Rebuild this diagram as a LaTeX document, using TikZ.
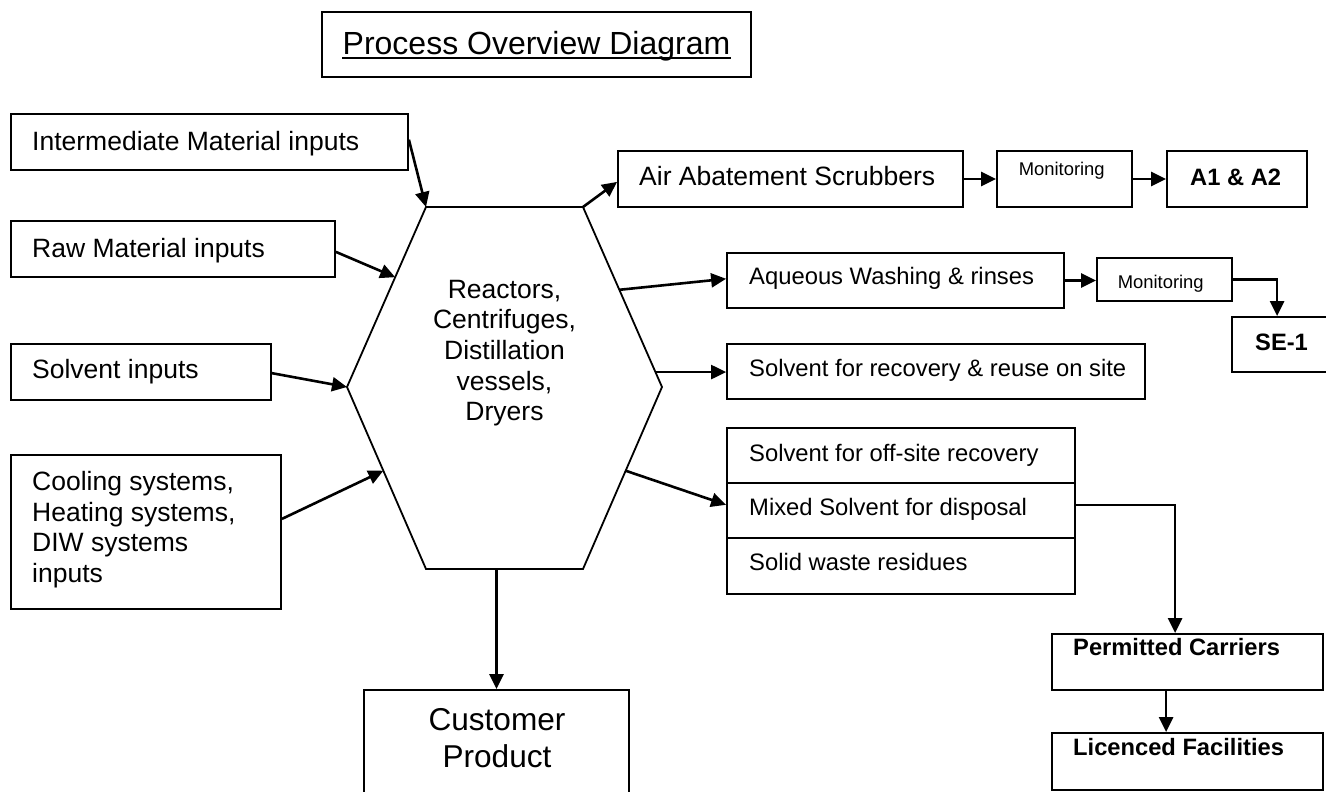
\documentclass[tikz,border=0pt]{standalone}
\usepackage{fontspec}
\setmainfont{Liberation Sans}
\usetikzlibrary{arrows.meta,fit,calc}
\begin{document}
\begin{tikzpicture}[x=1pt,y=-1pt,
  box/.style={draw, line width=1.8pt, inner sep=0pt},
  conn/.style={line width=2.6pt, -{Triangle[length=15pt,width=14pt]}},
  txt/.style={inner sep=0pt, anchor=base west},
  ctxt/.style={inner sep=0pt, anchor=base},
  big/.style={font=\fontsize{26.5}{30}\selectfont},
  med/.style={font=\fontsize{23.8}{28}\selectfont},
  sml/.style={font=\fontsize{18.4}{22}\selectfont},
  bld/.style={font=\fontsize{23.7}{28}\selectfont\bfseries},
  cst/.style={font=\fontsize{31.6}{36}\selectfont},
]
\useasboundingbox (0,0) rectangle (1326,792);

% ---- title
\node[box, fit={(322,12) (751,77)}] (title) {};
\node[ctxt, font=\fontsize{32}{36}\selectfont] (ttl) at (536.5,55) {Process Overview Diagram};
\draw[line width=2pt] ([yshift=-2.8pt]ttl.base west) -- ([yshift=-2.8pt]ttl.base east);

% ---- input boxes
\node[box, fit={(11,114) (408,170)}] (interm) {};
\node[txt, big] (tinterm) at (32,150.6) {Intermediate Material inputs};
\node[box, fit={(11,221) (335,277)}] (raw) {};
\node[txt, big] (traw) at (32,257.3) {Raw Material inputs};
\node[box, fit={(11,344) (271,400)}] (solvin) {};
\node[txt, big] (tsolvin) at (32,378) {Solvent inputs};
\node[box, fit={(11,455) (281,609)}] (cool) {};
\node[txt, big] (cool1) at (32,490.8) {Cooling systems,};
\node[txt, big] (cool2) at (32,521.2) {Heating systems,};
\node[txt, big] (cool3) at (32,551.6) {DIW systems};
\node[txt, big] (cool4) at (32,582) {inputs};

% ---- hexagon
\coordinate (hTL) at (426,207);
\coordinate (hTR) at (583,207);
\coordinate (hR)  at (662,387);
\coordinate (hBR) at (583,569);
\coordinate (hBL) at (426,569);
\coordinate (hL)  at (347,387);
\draw[line width=1.8pt, line join=miter] (hTL) -- (hTR) -- (hR) -- (hBR) -- (hBL) -- (hL) -- cycle;
\node[ctxt, big] (hx1) at (504.5,298) {Reactors,};
\node[ctxt, big] (hx2) at (504.5,328.7) {Centrifuges,};
\node[ctxt, big] (hx3) at (504.5,359.4) {Distillation};
\node[ctxt, big] (hx4) at (504.5,390.1) {vessels,};
\node[ctxt, big] (hx5) at (504.5,420.8) {Dryers};

% ---- customer product
\node[box, fit={(364,690) (629,796)}] (cust) {};
\node[ctxt, cst] (cust1) at (497,730.7) {Customer};
\node[ctxt, cst] (cust2) at (497,767.2) {Product};

% ---- output boxes
\node[box, fit={(618,151) (963,207)}] (air) {};
\node[txt, big] (tair) at (639,185.7) {Air Abatement Scrubbers};
\node[box, fit={(997,151) (1132,207)}] (mon1) {};
\node[txt, sml] (tmon1) at (1018.6,175) {Monitoring};
\node[box, fit={(1167,151) (1307,207)}] (a1) {};
\node[txt, bld] (ta1) at (1190,185) {A1 \& A2};

\node[box, fit={(727,253) (1064,308)}] (aq) {};
\node[txt, med] (taq) at (749,284.3) {Aqueous Washing \& rinses};
\node[box, fit={(1097,258) (1232,301)}] (mon2) {};
\node[txt, sml] (tmon2) at (1117.6,288) {Monitoring};
\node[box, fit={(1232,317) (1345,372)}] (se1) {};
\node[txt, bld] (tse1) at (1255,350) {SE-1};

\node[box, fit={(727,344) (1145,399)}] (rec) {};
\node[txt, med] (trec) at (749,376.7) {Solvent for recovery \& reuse on site};

\node[box, fit={(727,428) (1075,483)}] (w1) {};
\node[box, fit={(727,483) (1075,538)}] (w2) {};
\node[box, fit={(727,538) (1075,594)}] (w3) {};
\node[txt, med] (tw1) at (749,461) {Solvent for off-site recovery};
\node[txt, med] (tw2) at (749,515.7) {Mixed Solvent for disposal};
\node[txt, med] (tw3) at (749,570.7) {Solid waste residues};

\node[box, fit={(1052,634) (1323,690)}] (perm) {};
\node[txt, bld] (tperm) at (1073,655) {Permitted Carriers};
\node[box, fit={(1052,733) (1323,790)}] (lic) {};
\node[txt, bld] (tlic) at (1073,755) {Licenced Facilities};

% ---- connectors: inputs
\draw[conn] ($(interm.north east)!0.46!(interm.south east)$) -- (hTL);
\draw[conn] ($(raw.north east)!0.55!(raw.south east)$) -- ($(hL)!0.61!(hTL)$);
\draw[conn] ($(solvin.north east)!0.52!(solvin.south east)$) -- (hL);
\draw[conn] ($(cool.north east)!0.416!(cool.south east)$) -- ($(hL)!0.46!(hBL)$);

% ---- connectors: outputs
\draw[conn] (hTR) -- ($(air.north west)!0.55!(air.south west)$);
\draw[conn] ($(hTR)!0.46!(hR)$) -- ($(aq.north west)!0.47!(aq.south west)$);
\coordinate (r0) at ($(hTR)!0.917!(hR)$);
\draw[conn] (r0) -- (r0 -| rec.west);
\draw[conn] ($(hR)!0.46!(hBR)$) -- ($(w2.north west)!0.4!(w2.south west)$);
\draw[conn] (cust.north |- hBL) -- (cust.north);

\draw[conn] (air.east) -- (air.east -| mon1.west);
\draw[conn] (mon1.east) -- (mon1.east -| a1.west);
\draw[conn] (aq.east) -- (aq.east -| mon2.west);
\draw[conn] (mon2.east) -| ($(se1.north west)+(46,0)$);
\draw[conn] ($(w2.north east)!0.4!(w2.south east)$) -| ($(perm.north west)+(124,0)$);
\draw[conn] ($(perm.south west)+(115,0)$) -- ($(lic.north west)+(115,0)$);
\end{tikzpicture}
\end{document}
